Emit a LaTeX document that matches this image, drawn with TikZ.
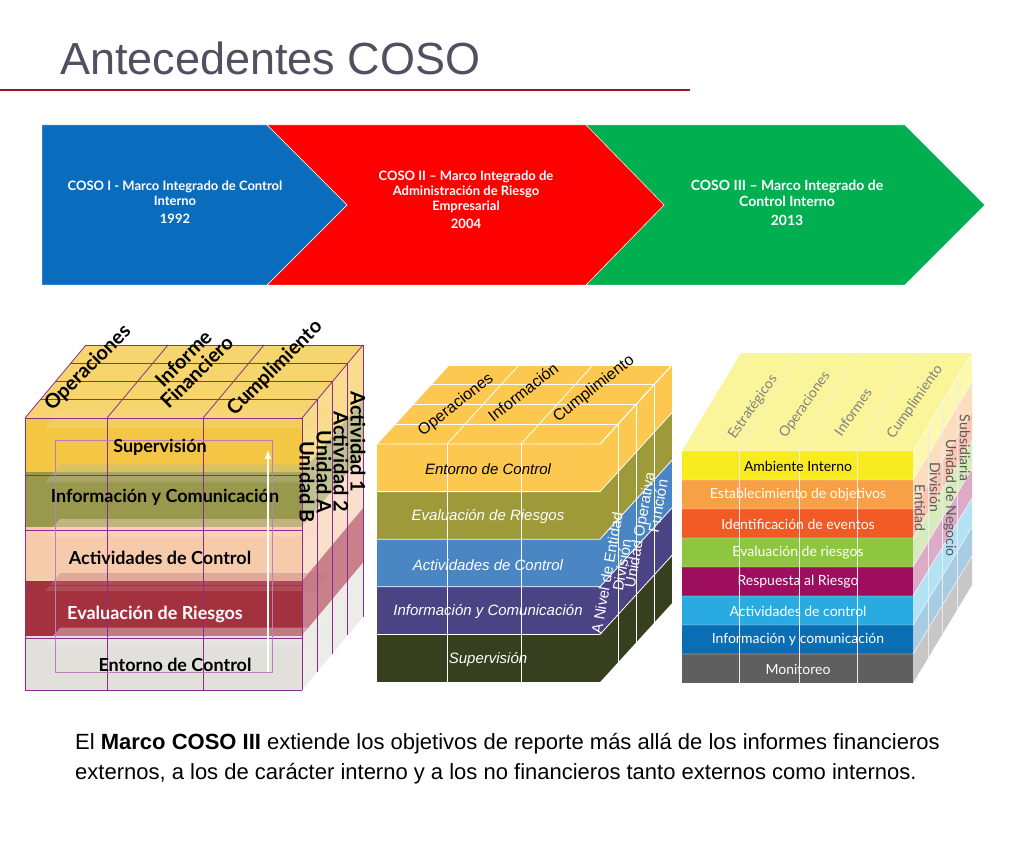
\documentclass[tikz,border=0pt]{standalone}
\usepackage{fontspec}
\setmainfont{Liberation Sans}
\newfontfamily\gill{Lato}
\usetikzlibrary{positioning}
\definecolor{tgray}{HTML}{4F5060}
\definecolor{tline}{HTML}{8B1A2B}
\definecolor{chblue}{HTML}{0A6CBC}
\definecolor{chred}{HTML}{FF0000}
\definecolor{chgreen}{HTML}{00B050}
% cube 1
\definecolor{aYel}{HTML}{F2C230}
\definecolor{aOli}{HTML}{8E8F3A}
\definecolor{aPea}{HTML}{F6C6A4}
\definecolor{aRed}{HTML}{9B1B2A}
\definecolor{aGry}{HTML}{DEDDD8}
\definecolor{aPur}{HTML}{8E2A8E}
% cube 2
\definecolor{bYel}{HTML}{FCC850}
\definecolor{bOli}{HTML}{9E9A3A}
\definecolor{bBlu}{HTML}{4A86C4}
\definecolor{bPur}{HTML}{4A4384}
\definecolor{bDrk}{HTML}{363F1E}
% cube 3
\definecolor{cYel}{HTML}{F9EC1E}
\definecolor{cTop}{HTML}{FAF59A}
\definecolor{cOra}{HTML}{F7A046}
\definecolor{cRor}{HTML}{F15A24}
\definecolor{cGrn}{HTML}{8DC63F}
\definecolor{cMag}{HTML}{9E0E5E}
\definecolor{cLbl}{HTML}{29ABE2}
\definecolor{cBlu}{HTML}{0A6EB5}
\definecolor{cGry}{HTML}{5F5F5F}
\tikzset{
  chevtext/.style={text=white,font=\gill\bfseries\fontsize{13}{15}\selectfont,align=center},
  lblA/.style={font=\gill\bfseries\fontsize{20}{19}\selectfont},
  rowA/.style={font=\gill\bfseries\fontsize{18}{18}\selectfont},
  lblB/.style={font=\itshape\fontsize{15}{15}\selectfont},
  lblC/.style={font=\gill\fontsize{14}{14}\selectfont},
}
\begin{document}
\begin{tikzpicture}[x=1pt,y=-1pt]
\useasboundingbox (0,0) rectangle (1024,866);
\fill[white] (0,0) rectangle (1024,866);
% title
\node[anchor=base west,text=tgray,font=\fontsize{45}{45}\selectfont,inner sep=0] (title) at (60,75) {Antecedentes COSO};
\coordinate (rulel) at (0,90);
\coordinate (ruler) at (690,90);
\draw[tline,line width=1.5pt] (rulel) -- (ruler);
% chevrons
\fill[chgreen,draw=white] (586,125) -- (905,125) -- (985,205) -- (905,285) -- (586,285) -- (664,205) -- cycle;
\fill[chred,draw=white] (267,125) -- (586,125) -- (664,205) -- (586,285) -- (267,285) -- (347,205) -- cycle;
\fill[chblue,draw=white] (42,125) -- (267,125) -- (347,205) -- (267,285) -- (42,285) -- cycle;
\node[chevtext] (coso1) at (175,202) {COSO I - Marco Integrado de Control\\Interno\\[3pt]1992};
\node[chevtext] (coso2) at (466,200) {COSO II – Marco Integrado de\\Administración de Riesgo\\Empresarial\\[3pt]2004};
\node[chevtext,font=\gill\bfseries\fontsize{14}{16}\selectfont] (coso3) at (787,203) {COSO III – Marco Integrado de\\Control Interno\\[3pt]2013};

% ---- cube 1
\fill[aYel!70] (25,418) -- (86,345) -- (363,345) -- (302,418) -- cycle;
\foreach \c [count=\i from 0] in {aYel,aOli,aPea,aRed,aGry}{
  \pgfmathsetmacro\a{418+54.4*\i}
  \pgfmathsetmacro\b{\a+54.4}
  \fill[\c,opacity=.55] (302,\a) -- (363,{\a-73}) -- (363,{\b-73}) -- (302,\b) -- cycle;
  \fill[\c,opacity=.9] (25,\a) rectangle (302,\b);
  \fill[\c!60!white,opacity=.4] (45,{\a+10}) -- (60,{\a-8}) -- (330,{\a-8}) -- (315,{\a+10}) -- cycle;
}
\foreach \x in {25,107,203,302}{
  \draw[aPur,thick] (\x,418) -- (\x,690);
  \draw[aPur,thick] (\x,418) -- ({\x+61},345);
}
\foreach \k in {1,2,3,4}{
  \draw[aPur,thick] ({25+15.25*\k},{418-18.25*\k}) -- ({302+15.25*\k},{418-18.25*\k}) -- ({302+15.25*\k},{690-18.25*\k});
}
\foreach \y in {418,475,530,585,638,690}
  \draw[aPur,thick] (25,\y) -- (302,\y);
\draw[aPur!60,thin] (55,440) rectangle (272,672);
\node[rowA] (a1) at (160,447) {Supervisión};
\node[rowA] (a2) at (165,497) {Información y Comunicación};
\node[rowA] (a3) at (160,558) {Actividades de Control};
\node[rowA,text=white] (a4) at (155,614) {Evaluación de Riesgos};
\node[rowA] (a5) at (175,665) {Entorno de Control};
\coordinate (arrlo) at (268,672);
\coordinate (arrhi) at (268,450);
\draw[white,line width=2pt,-latex] (arrlo) -- (arrhi);
\node[lblA,rotate=45] (aop) at (88,368) {Operaciones};
\node[lblA,rotate=45,align=center] (aif) at (190,365) {Informe\\Financiero};
\node[lblA,rotate=45] (acu) at (275,368) {Cumplimiento};
\node[lblA,rotate=-90] (ac1) at (358,442) {Actividad 1};
\node[lblA,rotate=-90] (ac2) at (341,462) {Actividad 2};
\node[lblA,rotate=-90] (aua) at (324,472) {Unidad A};
\node[lblA,rotate=-90] (aub) at (307,482) {Unidad B};

% ---- cube 2
\fill[bYel] (377,444) -- (449,365) -- (672,365) -- (600,444) -- cycle;
\foreach \c [count=\i from 0] in {bYel,bOli,bBlu,bPur,bDrk}{
  \pgfmathsetmacro\a{444+47.6*\i}
  \pgfmathsetmacro\b{\a+47.6}
  \fill[\c] (377,\a) rectangle (600,\b);
  \fill[\c] (600,\a) -- (672,{\a-79}) -- (672,{\b-79}) -- (600,\b) -- cycle;
  \draw[white,thick] (377,\a) -- (600,\a) -- (672,{\a-79});
}
\foreach \x in {377,447,521,600}{
  \draw[white,thick] (\x,444) -- ({\x+72},365);
}
\foreach \x in {447,521}
  \draw[white,thick] (\x,444) -- (\x,682);
\foreach \k in {1,2,3,4}{
  \draw[white,thick] ({377+18*\k},{444-19.75*\k}) -- ({600+18*\k},{444-19.75*\k}) -- ({600+18*\k},{682-19.75*\k});
}
\node[lblB] (b1) at (488,469) {Entorno de Control};
\node[lblB,text=white] (b2) at (488,517) {Evaluación de Riesgos};
\node[lblB,text=white] (b3) at (488,565) {Actividades de Control};
\node[lblB,text=white] (b4) at (488,612) {Información y Comunicación};
\node[lblB,text=white] (b5) at (488,660) {Supervisión};
\node[lblB,font=\fontsize{16}{16}\selectfont,rotate=38] (bop) at (456,405) {Operaciones};
\node[lblB,font=\fontsize{16}{16}\selectfont,rotate=38] (bin) at (523,392) {Información};
\node[lblB,font=\fontsize{16}{16}\selectfont,rotate=38] (bcu) at (594,389) {Cumplimiento};
\node[lblB,font=\fontsize{15}{15}\selectfont,text=white,rotate=80] (bne) at (607,573) {A Nivel de Entidad};
\node[lblB,font=\fontsize{15}{15}\selectfont,text=white,rotate=80] (bdi) at (622,565) {División};
\node[lblB,font=\fontsize{15}{15}\selectfont,text=white,rotate=80] (buo) at (641,530) {Unidad Operativa};
\node[lblB,font=\fontsize{15}{15}\selectfont,text=white,rotate=80] (bfu) at (658,506) {Función};

% ---- cube 3
\fill[cTop] (682,451) -- (741,353) -- (972,353) -- (913,451) -- cycle;
\foreach \c [count=\i from 0] in {cYel,cOra,cRor,cGrn,cMag,cLbl,cBlu,cGry}{
  \pgfmathsetmacro\a{451+29*\i}
  \pgfmathsetmacro\b{\a+29}
  \fill[\c] (682,\a) rectangle (913,\b);
  \fill[\c!35!white] (913,\a) -- (972,{\a-98}) -- (972,{\b-98}) -- (913,\b) -- cycle;
  \draw[white] (682,\a) -- (913,\a) -- (972,{\a-98});
}
\foreach \x in {739,799,857}{
  \draw[white!85!gray] (\x,451) -- (\x,683);
  \draw[white!85!gray] (\x,451) -- ({\x+59},353);
}
\foreach \k in {1,2,3}
  \draw[white!85!gray] ({913+14.75*\k},{451-24.5*\k}) -- ({913+14.75*\k},{683-24.5*\k});
\node[lblC] (c1) at (798,466) {Ambiente Interno};
\node[lblC,text=white] (c2) at (798,495) {Establecimiento de objetivos};
\node[lblC,text=white] (c3) at (798,524) {Identificación de eventos};
\node[lblC,text=white] (c4) at (798,553) {Evaluación de riesgos};
\node[lblC,text=white] (c5) at (798,582) {Respuesta al Riesgo};
\node[lblC,text=white] (c6) at (798,611) {Actividades de control};
\node[lblC,text=white] (c7) at (798,640) {Información y comunicación};
\node[lblC,text=white] (c8) at (798,669) {Monitoreo};
\node[lblC,text=gray,rotate=55] (ces) at (753,407) {Estratégicos};
\node[lblC,text=gray,rotate=55] (cop) at (805,405) {Operaciones};
\node[lblC,text=gray,rotate=55] (cin) at (853,412) {Informes};
\node[lblC,text=gray,rotate=55] (ccu) at (915,402) {Cumplimiento};
\node[lblC,text=black!65,rotate=-90] (cen) at (920,508) {Entidad};
\node[lblC,text=black!65,rotate=-90] (cdi) at (935,487) {División};
\node[lblC,text=black!65,rotate=-90] (cun) at (950,498) {Unidad de Negocio};
\node[lblC,text=black!65,rotate=-90] (csu) at (965,448) {Subsidiaria};

% bottom text
\node[anchor=north west,align=left,font=\fontsize{22}{30}\selectfont,inner sep=0] (note) at (75,733)
  {El \textbf{Marco COSO III} extiende los objetivos de reporte más allá de los informes financieros\\externos, a los de carácter interno y a los no financieros tanto externos como internos.};
\end{tikzpicture}
\end{document}
